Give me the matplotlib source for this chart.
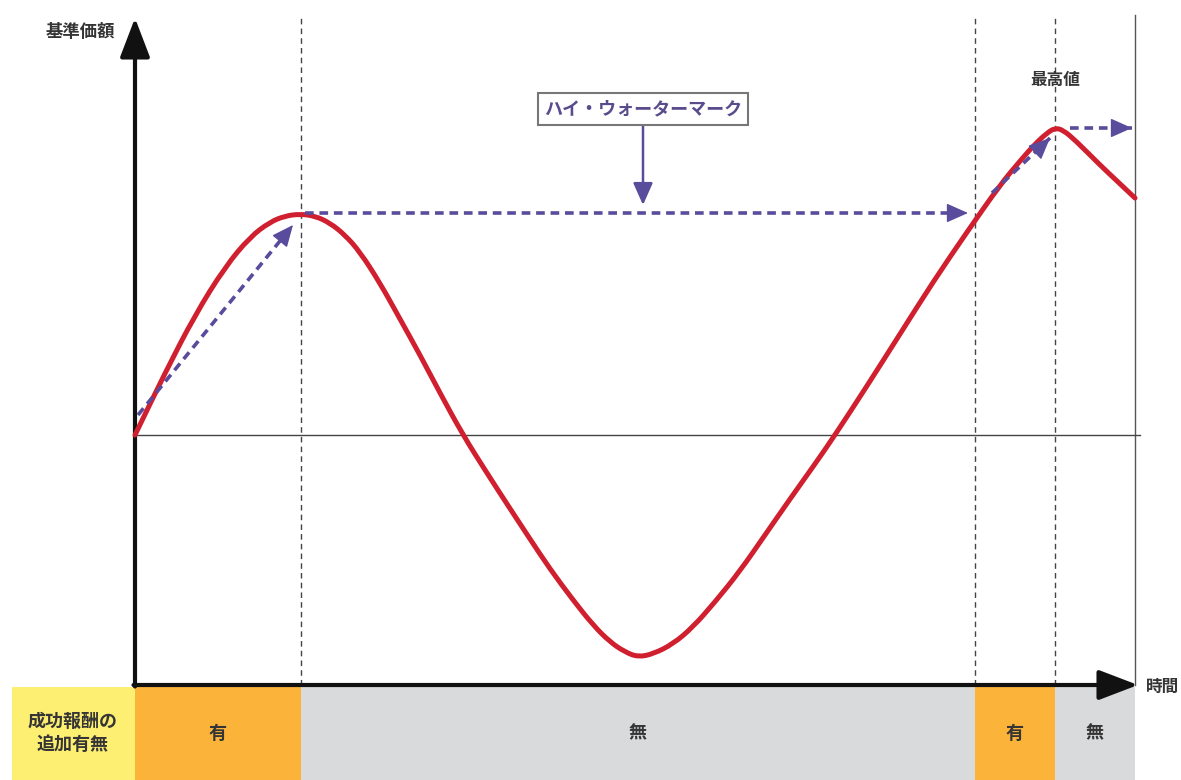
import matplotlib
matplotlib.use('Agg')
import matplotlib.pyplot as plt
from matplotlib.path import Path
from matplotlib.patches import PathPatch

plt.rcParams['font.family'] = ['Noto Sans CJK JP', 'DejaVu Sans']

# NAV curve (time, value relative to start)
nav_t = [0, 30, 60, 90, 115, 135, 150, 165, 180, 195, 210, 225, 245, 265, 285,
         305, 328, 350, 372, 395, 415, 438, 458, 475, 490, 503, 518, 538, 558,
         580, 605, 630, 655, 680, 700, 732, 765, 798, 832, 865, 885, 900, 912,
         920, 928, 940, 965, 982, 1000]
nav_v = [0, 62, 120, 168, 198, 213, 219, 221, 219, 212, 200, 183, 152, 116, 80,
         42, 0, -35, -69, -104, -134, -165, -190, -207, -217, -222, -219, -209, -192,
         -167, -136, -100, -64, -29, 0, 49, 101, 153, 203, 250, 274, 291, 302,
         307, 305, 295, 270, 254, 237]

# high water mark arrows (start t, start v, end t, end v)
hwm_arrows = [
    (3, 20, 158, 210),
    (170, 222, 833, 222),
    (857, 242, 915, 297),
    (935, 307, 997, 307),
]

# fee periods
period_edges = [0, 166, 840, 920, 1000]
period_labels = ['有', '無', '有', '無']
period_fee = [True, False, True, False]

# layout in data units
t_min, t_max = -135, 1046
v_min, v_max = -345, 435
x_axis_v = -250
band_top = -252

purple = '#5a4c9c'
text_col = '#353535'

fig = plt.figure(figsize=(11.81, 7.80), dpi=100)
ax = fig.add_axes([0, 0, 1, 1])
ax.set_xlim(t_min, t_max)
ax.set_ylim(v_min, v_max)
ax.axis('off')

# bottom band
ax.fill_between([-123, 0], v_min, band_top, color='#fdef72', lw=0)
ax.text(-62, -298, '成功報酬の\n追加有無', ha='center', va='center', fontsize=13,
        fontweight='bold', color=text_col, linespacing=1.3)
for i, lab in enumerate(period_labels):
    a, b = period_edges[i], period_edges[i + 1]
    col = '#fbb33a' if period_fee[i] else '#d9dadc'
    ax.fill_between([a, b], v_min, band_top, color=col, lw=0)
    ax.text((a + b) / 2, -298, lab, ha='center', va='center', fontsize=13,
            fontweight='bold', color=text_col)

# dashed verticals at the period boundaries
for t in period_edges[1:-1]:
    ax.plot([t, t], [x_axis_v, 420], color='#444444', lw=1, ls=(0, (4, 3)))
# right border line
ax.plot([1000, 1000], [x_axis_v, 420], color='#555555', lw=1)

# baseline
ax.plot([0, 1005], [0, 0], color='#444444', lw=1)

# axes arrows
for xy, xyt in [((0, 417), (0, x_axis_v - 1.5)), ((1003, x_axis_v), (-1.5, x_axis_v))]:
    ax.annotate('', xy=xy, xytext=xyt,
                arrowprops=dict(arrowstyle='-|>,head_length=1.1,head_width=0.42',
                                lw=3, color='#111111', shrinkA=0, shrinkB=0,
                                mutation_scale=22))
ax.text(-55, 403, '基準価額', ha='center', va='center', fontsize=12.5,
        fontweight='bold', color=text_col)
ax.text(1028, -252, '時間', ha='center', va='center', fontsize=12,
        fontweight='bold', color=text_col)

# NAV curve, drawn as a smooth quadratic path through the read points
pts = list(zip(nav_t, nav_v))
verts = [pts[0]]
codes = [Path.MOVETO]
verts.append(((pts[0][0] + pts[1][0]) / 2, (pts[0][1] + pts[1][1]) / 2))
codes.append(Path.LINETO)
for i in range(1, len(pts) - 1):
    mid = ((pts[i][0] + pts[i + 1][0]) / 2, (pts[i][1] + pts[i + 1][1]) / 2)
    verts += [pts[i], mid]
    codes += [Path.CURVE3, Path.CURVE3]
verts.append(pts[-1])
codes.append(Path.LINETO)
ax.add_patch(PathPatch(Path(verts, codes), fill=False, ec='#d01f2e', lw=3.6,
                       joinstyle='round', capstyle='round', zorder=3))

# high water mark arrows: dashed shaft, solid head
for t0, v0, t1, v1 in hwm_arrows:
    ax.plot([t0, t1], [v0, v1], color=purple, lw=2.6, ls=(0, (2.4, 1.6)), zorder=4)
    ax.annotate('', xy=(t1, v1), xytext=(t0 + (t1 - t0) * 0.97, v0 + (v1 - v0) * 0.97),
                arrowprops=dict(arrowstyle='-|>,head_length=0.9,head_width=0.4',
                                lw=1, color=purple, shrinkA=0, shrinkB=0,
                                mutation_scale=15),
                zorder=4)

# label box and its arrow
ax.annotate('', xy=(508, 230), xytext=(508, 312),
            arrowprops=dict(arrowstyle='-|>,head_length=0.9,head_width=0.4',
                            lw=1.8, color=purple, shrinkA=0, shrinkB=0,
                            mutation_scale=15))
ax.text(508, 326, 'ハイ・ウォーターマーク', ha='center', va='center', fontsize=13,
        fontweight='bold', color='#5a4c8c',
        bbox=dict(boxstyle='square,pad=0.35', fc='white', ec='#777777', lw=1.5))

ax.text(920, 355, '最高値', ha='center', va='center', fontsize=12,
        fontweight='bold', color=text_col)

fig.savefig('out.png', dpi=100, facecolor='white')
